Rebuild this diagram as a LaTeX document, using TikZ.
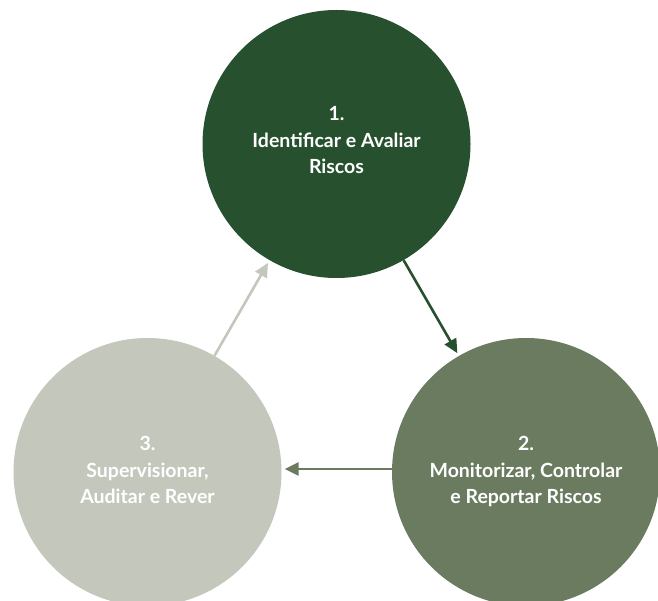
\documentclass[tikz,border=0pt]{standalone}
\usepackage{fontspec}
\setmainfont{Lato}
\usetikzlibrary{arrows.meta}
\definecolor{cdark}{HTML}{27502F}
\definecolor{cmid}{HTML}{6B7B5F}
\definecolor{clight}{HTML}{C4C7BC}
\tikzset{
  stage/.style={circle, minimum size=268pt, inner sep=0pt, text=white, align=center,
    font=\fontsize{19.5}{26.5}\selectfont\bfseries},
  flow/.style={line width=2.6pt, -{Triangle[length=14pt,width=13pt]}, shorten >=3pt},
}
\begin{document}
\begin{tikzpicture}[x=1pt,y=-1pt]
\useasboundingbox (0,0) rectangle (658,601);
\node[stage, fill=cdark] (s1) at (336.5,144) {1.\\Identificar e Avaliar\\Riscos\\[-18.5pt]};
\node[stage, fill=cmid] (s2) at (526,472) {2.\\Monitorizar, Controlar\\e Reportar Riscos\\[-22.5pt]};
\node[stage, fill=clight] (s3) at (147.5,472) {3.\\Supervisionar,\\Auditar e Rever\\[-22.5pt]};
\draw[flow, draw=cdark, fill=cdark] (s1) -- (s2);
\draw[flow, draw=cmid, fill=cmid] ([yshift=3pt]s2.west) -- ([yshift=3pt]s3.east);
\draw[flow, draw=clight, fill=clight] (s3) -- (s1);
\end{tikzpicture}
\end{document}
